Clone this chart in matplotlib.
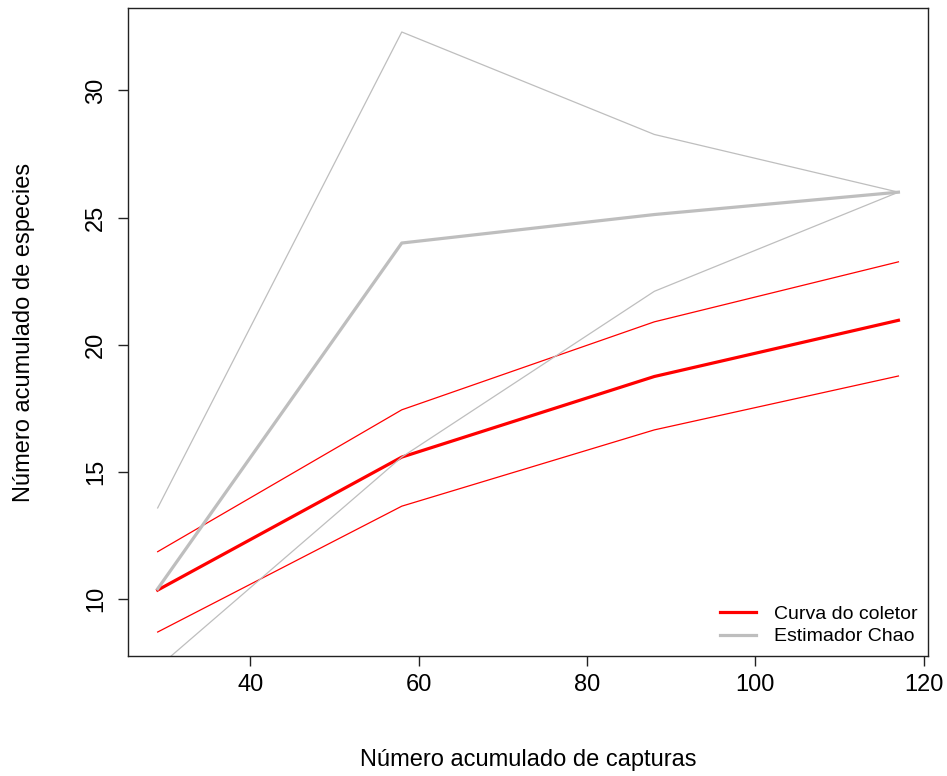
import matplotlib.pyplot as plt

plt.rcParams['font.family'] = ['Liberation Sans', 'DejaVu Sans']

# dados
capturas = [29, 58, 88, 117]
coletor = [10.35, 15.58, 18.75, 20.96]
coletor_inf = [8.7, 13.65, 16.65, 18.77]
coletor_sup = [11.86, 17.44, 20.9, 23.26]
chao = [10.4, 24.0, 25.12, 26.0]
chao_inf = [7.3, 15.58, 22.1, 26.0]
chao_sup = [13.58, 32.3, 28.27, 26.0]

vermelho = '#FF0000'
cinza = '#BEBEBE'

fig = plt.figure(figsize=(9.47, 7.76), dpi=100)
ax = fig.add_axes([0.1352, 0.1546, 0.8448, 0.8351])

# curva do coletor
ax.plot(capturas, coletor, color=vermelho, lw=2.3)
ax.plot(capturas, coletor_inf, color=vermelho, lw=0.9)
ax.plot(capturas, coletor_sup, color=vermelho, lw=0.9)

# estimador Chao
ax.plot(capturas, chao, color=cinza, lw=2.3)
ax.plot(capturas, chao_inf, color=cinza, lw=0.9)
ax.plot(capturas, chao_sup, color=cinza, lw=0.9)

# limites no estilo do R (4% de margem)
x0, x1 = min(capturas), max(capturas)
dx = 0.04 * (x1 - x0)
ax.set_xlim(x0 - dx, x1 + dx)
y0, y1 = min(coletor_inf), max(chao_sup)
dy = 0.04 * (y1 - y0)
ax.set_ylim(y0 - dy, y1 + dy)

ax.set_xticks([40, 60, 80, 100, 120])
ax.set_yticks([10, 15, 20, 25, 30])
ax.tick_params(direction='out', length=7, width=1, labelsize=17, color='#222222')
ax.tick_params(axis='x', pad=6)
ax.tick_params(axis='y', pad=8)
for lab in ax.get_yticklabels():
    lab.set_rotation(90)
    lab.set_va('center')
for s in ax.spines.values():
    s.set_linewidth(1)
    s.set_color('#222222')

ax.set_xlabel('Número acumulado de capturas', fontsize=17, labelpad=38)
ax.set_ylabel('Número acumulado de especies', fontsize=17, labelpad=36)

ax.plot([], [], color=vermelho, lw=2.3, label='Curva do coletor')
ax.plot([], [], color=cinza, lw=2.3, label='Estimador Chao')
handles, labels = ax.get_legend_handles_labels()
ax.legend(handles[-2:], labels[-2:], loc='lower right', frameon=False,
          fontsize=14, handlelength=1.85, handletextpad=0.9, labelspacing=0.25,
          borderaxespad=0.15)

fig.savefig('out.png', dpi=100)
